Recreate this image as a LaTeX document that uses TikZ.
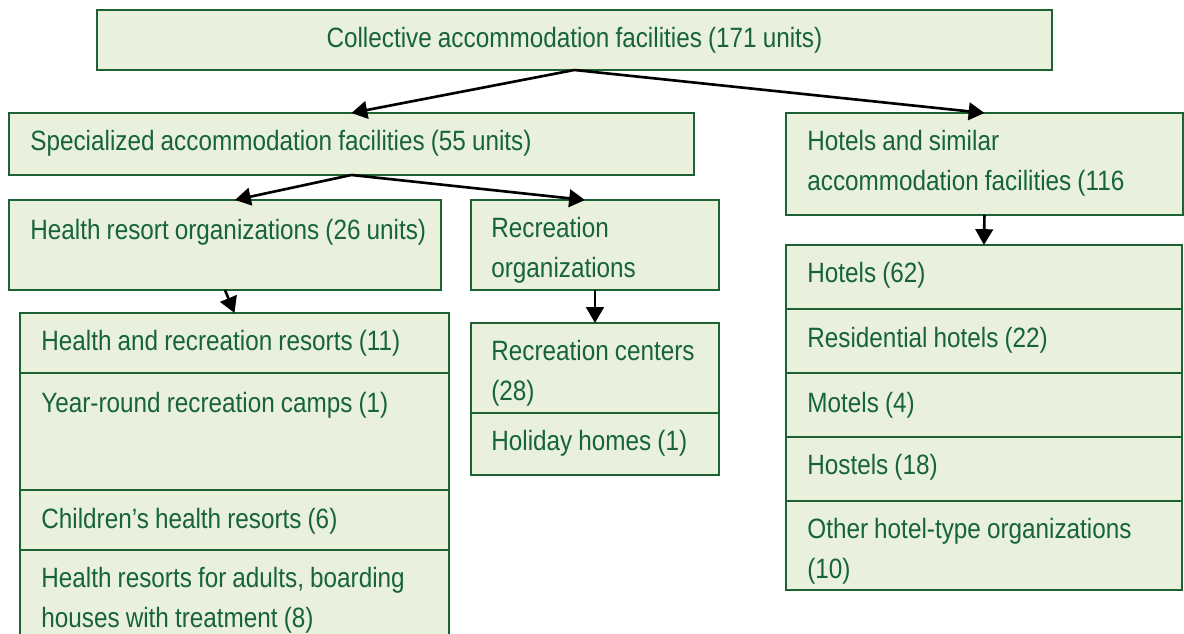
\documentclass[tikz,border=0pt]{standalone}
\usepackage{fontspec}
\setmainfont{Liberation Sans}[FakeStretch=0.87, WordSpace=0.9]
\usepackage{xcolor}
\usepackage{tikz}
\usetikzlibrary{arrows.meta,positioning}

\definecolor{boxfill}{RGB}{233,240,219}
\definecolor{boxline}{RGB}{28,98,50}
\definecolor{ink}{RGB}{22,100,56}

\begin{document}
\begin{tikzpicture}[x=0.02cm, y=-0.02cm,
    cell/.style={draw=boxline, fill=boxfill, line width=1.1pt, outer sep=0pt,
      inner sep=0pt, anchor=north west},
    txt/.style={text=ink, anchor=base west, align=flush left, text width=13cm,
      inner sep=0pt, font=\fontsize{15.9}{22.7}\selectfont},
    link/.style={-{Triangle[length=9pt,width=10pt]}, line width=1.5pt}]
   \useasboundingbox (0,0) rectangle (1184,634);

   % upper levels
   \node[cell, minimum width=19.1cm, minimum height=1.2cm, text=ink,
     font=\fontsize{15.9}{22.7}\selectfont] (C) at (97,10)
     {Collective accommodation facilities (171 units)};
   \node[cell, minimum width=13.7cm, minimum height=1.24cm] (S) at (9,113) {};
   \node[cell, minimum width=7.94cm, minimum height=2.04cm] (H) at (786,113) {};
   \node[cell, minimum width=8.64cm, minimum height=1.8cm] (HR) at (9,200) {};
   \node[cell, minimum width=4.96cm, minimum height=1.8cm] (RO) at (471,200) {};

   % health resort types
   \node[cell, minimum width=8.58cm, minimum height=1.2cm] (L1) at (20,313) {};
   \node[cell, minimum width=8.58cm, minimum height=2.34cm] (L2) [below=0pt of L1] {};
   \node[cell, minimum width=8.58cm, minimum height=1.2cm] (L3) [below=0pt of L2] {};
   \node[cell, minimum width=8.58cm, minimum height=2cm] (L4) [below=0pt of L3] {};

   % recreation types
   \node[cell, minimum width=4.96cm, minimum height=1.8cm] (M1) at (471,323) {};
   \node[cell, minimum width=4.96cm, minimum height=1.24cm] (M2) [below=0pt of M1] {};

   % hotel types
   \node[cell, minimum width=7.92cm, minimum height=1.28cm] (R1) at (786,245) {};
   \node[cell, minimum width=7.92cm, minimum height=1.28cm] (R2) [below=0pt of R1] {};
   \node[cell, minimum width=7.92cm, minimum height=1.28cm] (R3) [below=0pt of R2] {};
   \node[cell, minimum width=7.92cm, minimum height=1.28cm] (R4) [below=0pt of R3] {};
   \node[cell, minimum width=7.92cm, minimum height=1.78cm] (R5) [below=0pt of R4] {};

   % labels
   \node[txt] (St) at (30,151) {Specialized accommodation facilities (55 units)};
   \node[txt] (Ht) at (807,151) {Hotels and similar\\accommodation facilities (116};
   \node[txt] (HRt) at (30,240) {Health resort organizations (26 units)};
   \node[txt] (ROt) at (491,238) {Recreation\\organizations};
   \node[txt] (L1t) at (41,351) {Health and recreation resorts (11)};
   \node[txt] (L2t) at (41,413) {Year-round recreation camps (1)};
   \node[txt] (L3t) at (41,529) {Children’s health resorts (6)};
   \node[txt] (L4t) at (41,588) {Health resorts for adults, boarding\\houses with treatment (8)};
   \node[txt] (M1t) at (491,361) {Recreation centers\\(28)};
   \node[txt] (M2t) at (491,451) {Holiday homes (1)};
   \node[txt] (R1t) at (807,283) {Hotels (62)};
   \node[txt] (R2t) at (807,348) {Residential hotels (22)};
   \node[txt] (R3t) at (807,413) {Motels (4)};
   \node[txt] (R4t) at (807,475) {Hostels (18)};
   \node[txt] (R5t) at (807,539) {Other hotel-type organizations\\(10)};

   % arrows
   \draw[link] (C.south) -- (S.north);
   \draw[link] (C.south) -- (H.north);
   \draw[link] (S.south) -- ([xshift=0.2cm]HR.north);
   \draw[link] (S.south) -- ([xshift=-0.2cm]RO.north);
   \draw[link] (HR.south) -- (L1.north);
   \draw[link] (RO.south) -- (M1.north);
   \draw[link] (H.south) -- (R1.north);
\end{tikzpicture}
\end{document}
